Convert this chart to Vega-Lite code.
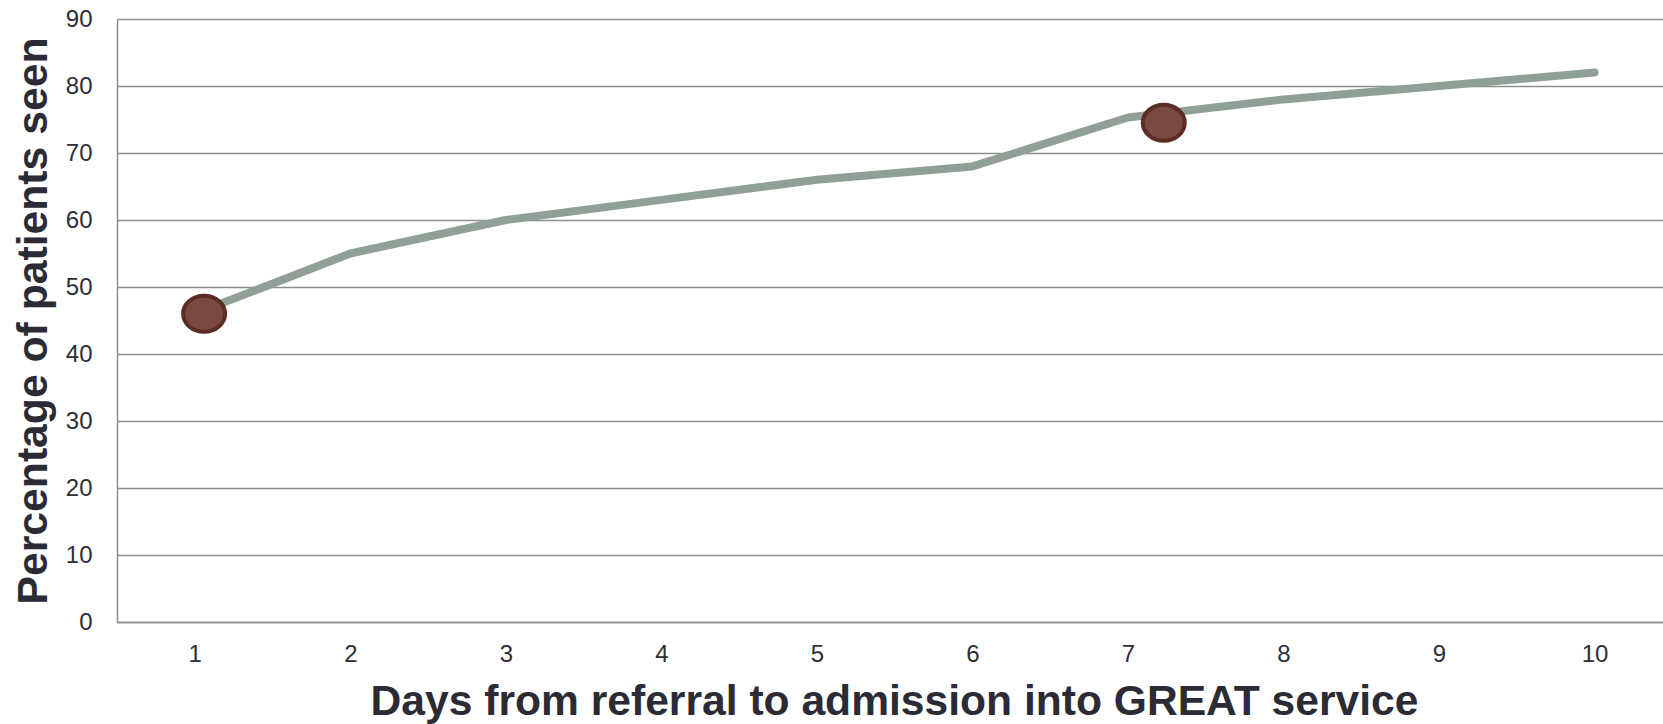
{
  "$schema": "https://vega.github.io/schema/vega-lite/v6.json",
  "width": 1546,
  "height": 603,
  "autosize": "none",
  "padding": {"left": 117, "top": 19, "right": 0, "bottom": 102},
  "background": "white",
  "config": {
    "view": {"stroke": null},
    "font": "Liberation Sans"
  },
  "datasets": {
    "series": [
      {"day": 1, "pct": 46},
      {"day": 2, "pct": 55},
      {"day": 3, "pct": 60},
      {"day": 4, "pct": 63},
      {"day": 5, "pct": 66},
      {"day": 6, "pct": 68},
      {"day": 7, "pct": 75.3},
      {"day": 8, "pct": 78},
      {"day": 9, "pct": 80},
      {"day": 10, "pct": 82}
    ],
    "markers": [
      {"day": 1.06, "pct": 46},
      {"day": 7.23, "pct": 74.5}
    ]
  },
  "encoding": {
    "x": {
      "field": "day",
      "type": "quantitative",
      "scale": {"domain": [0.5, 10.44], "nice": false, "zero": false},
      "axis": {
        "title": "Days from referral to admission into GREAT service",
        "values": [1, 2, 3, 4, 5, 6, 7, 8, 9, 10],
        "grid": false,
        "ticks": false,
        "domain": true,
        "domainColor": "#8e8e8e",
        "domainWidth": 1.5,
        "labelFontSize": 24,
        "labelColor": "#2e2e36",
        "labelPadding": 20,
        "labelFont": "Liberation Sans",
        "titleFont": "Liberation Sans",
        "titleFontSize": 42.6,
        "titleFontWeight": "bold",
        "titleColor": "#2b2b35",
        "titlePadding": 14,
        "titleX": 777
      }
    },
    "y": {
      "field": "pct",
      "type": "quantitative",
      "scale": {"domain": [0, 90], "nice": false},
      "axis": {
        "title": "Percentage of patients seen",
        "values": [0, 10, 20, 30, 40, 50, 60, 70, 80, 90],
        "grid": true,
        "gridColor": "#8e8e8e",
        "gridWidth": 1.3,
        "ticks": false,
        "domain": true,
        "domainColor": "#8e8e8e",
        "domainWidth": 1.5,
        "labelFontSize": 24,
        "labelColor": "#2e2e36",
        "labelPadding": 25,
        "labelFont": "Liberation Sans",
        "titleFont": "Liberation Sans",
        "titleFontSize": 42.7,
        "titleFontWeight": "bold",
        "titleColor": "#2b2b35",
        "titlePadding": 10
      }
    }
  },
  "layer": [
    {
      "data": {"name": "series"},
      "mark": {
        "type": "line",
        "color": "#8fa196",
        "strokeWidth": 8,
        "strokeCap": "round",
        "strokeJoin": "round"
      }
    },
    {
      "data": {"name": "markers"},
      "mark": {
        "type": "point",
        "shape": "M -1 0 A 1 0.857 0 1 0 1 0 A 1 0.857 0 1 0 -1 0 Z",
        "size": 1764,
        "filled": true,
        "opacity": 1,
        "fill": "#7a4a40",
        "stroke": "#5b2d25",
        "strokeWidth": 4
      }
    }
  ]
}
